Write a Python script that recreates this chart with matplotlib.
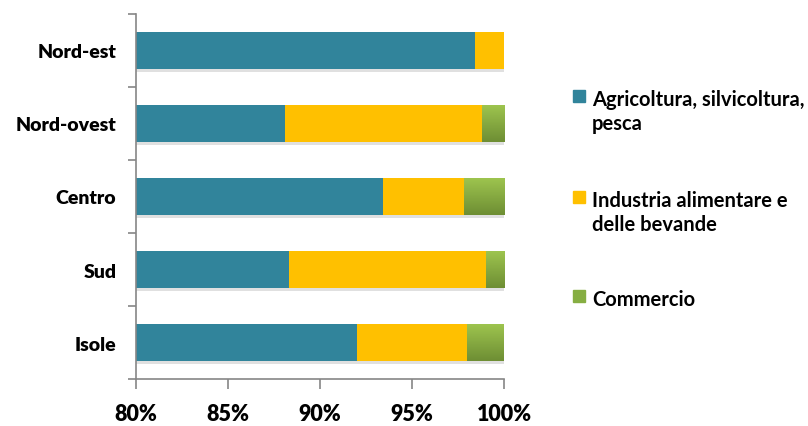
import numpy as np
import matplotlib.pyplot as plt
import matplotlib.patheffects as pe
from matplotlib.patches import Rectangle
from matplotlib.colors import LinearSegmentedColormap
from matplotlib.ticker import FuncFormatter

# Quote percentuali per ripartizione (somma 100)
regioni = ["Nord-est", "Nord-ovest", "Centro", "Sud", "Isole"]
agricoltura = [98.4, 88.1, 93.4, 88.3, 92.0]
industria = [1.6, 10.7, 4.4, 10.7, 6.0]
commercio = [0.0, 1.2, 2.2, 1.0, 2.0]

settori = ["Agricoltura, silvicoltura,\npesca",
           "Industria alimentare e\ndelle bevande",
           "Commercio"]
colori = ["#31849B", "#FFC000", "#86AE42"]

plt.rcParams["font.family"] = ["Lato", "DejaVu Sans"]


def main():
    fig = plt.figure(figsize=(8.08, 4.27), dpi=100)
    ax = fig.add_axes([0.168, 0.110, 0.456, 0.855])

    y = list(range(len(regioni)))
    shadow = [pe.SimplePatchShadow(offset=(1, -2.5), shadow_rgbFace="#000000",
                                   alpha=0.12), pe.Normal()]
    verde = LinearSegmentedColormap.from_list("verde", ["#9DC44E", "#6E8E34"])
    grad = np.linspace(0, 1, 50).reshape(-1, 1)

    left = [0.0] * len(regioni)
    for k, (serie, col) in enumerate(zip([agricoltura, industria, commercio], colori)):
        bars = ax.barh(y, [v / 100 for v in serie], left=left, height=0.5,
                       color=col, linewidth=0)
        for b in bars:
            b.set_path_effects(shadow)
            if k == 2 and b.get_width() > 0:
                # riempimento sfumato per il commercio
                x0, y0 = b.get_x(), b.get_y()
                im = ax.imshow(grad, cmap=verde, aspect="auto",
                               extent=[x0, x0 + b.get_width(), y0 + b.get_height(), y0],
                               zorder=b.get_zorder() + 0.1)
                im.set_clip_path(b)
        left = [l + v / 100 for l, v in zip(left, serie)]

    ax.set_xlim(0.8, 1.0)
    ax.set_ylim(len(regioni) - 0.5, -0.5)
    ax.set_xticks([0.80, 0.85, 0.90, 0.95, 1.00])
    ax.xaxis.set_major_formatter(FuncFormatter(lambda v, p: f"{v * 100:.0f}%"))
    ax.set_yticks(y)
    ax.set_yticklabels(regioni, fontsize=14, fontweight="heavy")
    ax.set_yticks([i + 0.5 for i in range(-1, len(regioni))], minor=True)
    for lab in ax.get_xticklabels():
        lab.set_fontsize(15.5)
        lab.set_fontweight("heavy")

    for side in ["top", "right"]:
        ax.spines[side].set_visible(False)
    for side in ["left", "bottom"]:
        ax.spines[side].set_color("#868686")
        ax.spines[side].set_linewidth(1.2)
    ax.tick_params(axis="y", which="major", length=0, pad=14)
    ax.tick_params(axis="y", which="minor", length=6, color="#868686", width=1.2)
    ax.tick_params(axis="x", length=7, color="#868686", width=1.2, pad=10)

    # legenda a destra
    voci_y = [0.771, 0.534, 0.302]
    for nome, col, yy in zip(settori, colori, voci_y):
        fig.add_artist(Rectangle((573 / 808, yy - 0.012), 12 / 808, 12 / 427,
                                 transform=fig.transFigure, color=col))
        fig.text(592 / 808, yy + 0.019, nome, fontsize=14.5, fontweight="bold",
                 va="top", linespacing=1.25)

    fig.savefig("out.png")


if __name__ == "__main__":
    main()
